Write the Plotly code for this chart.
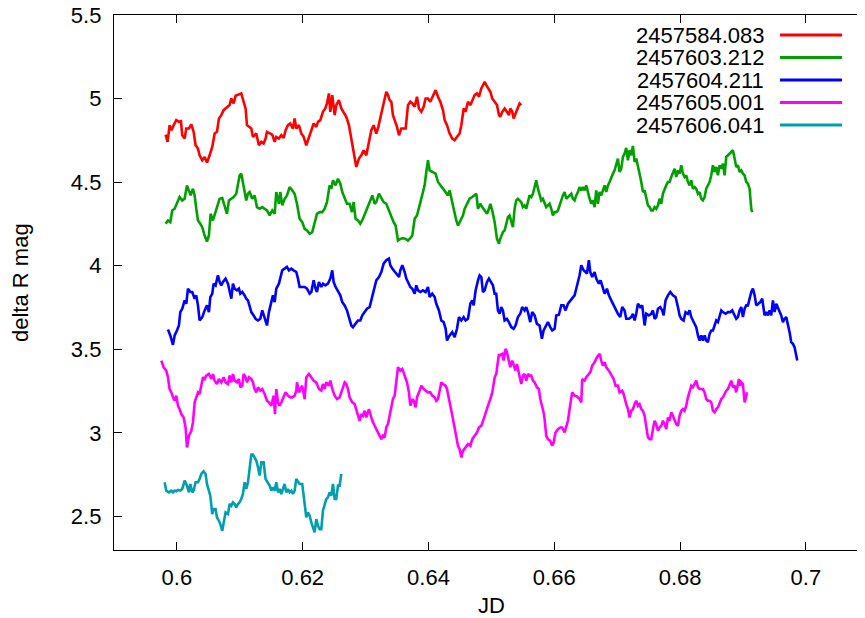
import plotly.graph_objects as go

# ---------------- data ----------------
series_names = ["2457584.083", "2457603.212", "2457604.211", "2457605.001", "2457606.041"]
series_colors = ["#ff0000", "#00a000", "#0000ff", "#ff00ff", "#009faf"]

x_tickvals = [0.6, 0.62, 0.64, 0.66, 0.68, 0.7]
x_ticktext = ["0.6", "0.62", "0.64", "0.66", "0.68", "0.7"]
y_tickvals = [2.5, 3, 3.5, 4, 4.5, 5, 5.5]
y_ticktext = ["2.5", "3", "3.5", "4", "4.5", "5", "5.5"]

jd_584 = [0.59820, 0.59852, 0.59884, 0.59916, 0.59948, 0.59990, 0.60032, 0.60064, 0.60085, 0.60123,
          0.60149, 0.60191, 0.60229, 0.60266, 0.60297, 0.60335, 0.60361, 0.60403, 0.60441, 0.60478,
          0.60520, 0.60562, 0.60600, 0.60637, 0.60668, 0.60706, 0.60743, 0.60785, 0.60838, 0.60865,
          0.60902, 0.60933, 0.60971, 0.61024, 0.61061, 0.61092, 0.61114, 0.61156, 0.61183, 0.61209,
          0.61262, 0.61304, 0.61342, 0.61379, 0.61410, 0.61432, 0.61474, 0.61516, 0.61554, 0.61580,
          0.61622, 0.61660, 0.61697, 0.61728, 0.61766, 0.61803, 0.61845, 0.61872, 0.61898, 0.61940,
          0.61978, 0.62015, 0.62057, 0.62099, 0.62137, 0.62174, 0.62216, 0.62243, 0.62280, 0.62322,
          0.62359, 0.62386, 0.62417, 0.62439, 0.62470, 0.62508, 0.62534, 0.62576, 0.62614, 0.62651,
          0.62693, 0.62735, 0.62773, 0.62810, 0.62852, 0.62894, 0.62932, 0.62969, 0.63011, 0.63053,
          0.63091, 0.63128, 0.63170, 0.63202, 0.63234, 0.63276, 0.63303, 0.63329, 0.63356, 0.63382,
          0.63409, 0.63435, 0.63462, 0.63499, 0.63531, 0.63568, 0.63605, 0.63637, 0.63674, 0.63711,
          0.63743, 0.63780, 0.63817, 0.63848, 0.63886, 0.63923, 0.63954, 0.63992, 0.64029, 0.64071,
          0.64113, 0.64151, 0.64188, 0.64230, 0.64257, 0.64294, 0.64336, 0.64378, 0.64416, 0.64453,
          0.64495, 0.64522, 0.64559, 0.64590, 0.64628, 0.64665, 0.64696, 0.64734, 0.64771, 0.64803,
          0.64840, 0.64866, 0.64893, 0.64919, 0.64946, 0.64983, 0.65014, 0.65052, 0.65089, 0.65121,
          0.65141, 0.65173, 0.65210, 0.65247, 0.65279, 0.65300, 0.65332, 0.65353, 0.65384, 0.65422,
          0.65448, 0.65475]
mag_584 = [4.785, 4.741, 4.841, 4.811, 4.841, 4.871, 4.861, 4.865, 4.781, 4.761,
           4.821, 4.821, 4.845, 4.801, 4.721, 4.701, 4.661, 4.631, 4.651, 4.617,
           4.661, 4.711, 4.791, 4.801, 4.881, 4.901, 4.931, 4.945, 4.961, 5.001,
           4.971, 5.017, 5.021, 5.031, 4.981, 4.941, 4.841, 4.831, 4.821, 4.771,
           4.791, 4.721, 4.741, 4.731, 4.761, 4.801, 4.791, 4.785, 4.741, 4.771,
           4.761, 4.781, 4.765, 4.811, 4.841, 4.851, 4.821, 4.881, 4.821, 4.841,
           4.791, 4.771, 4.721, 4.771, 4.811, 4.851, 4.831, 4.861, 4.871, 4.921,
           4.941, 4.971, 5.031, 4.921, 5.021, 4.901, 4.961, 4.991, 4.941, 4.921,
           4.891, 4.841, 4.761, 4.701, 4.591, 4.641, 4.661, 4.691, 4.661, 4.741,
           4.811, 4.841, 4.791, 4.831, 4.881, 4.961, 5.001, 5.041, 5.021, 4.991,
           4.981, 4.901, 4.871, 4.831, 4.781, 4.821, 4.821, 4.821, 4.961, 4.981,
           4.971, 4.951, 5.011, 4.941, 4.921, 4.951, 5.001, 5.001, 4.981, 5.021,
           5.051, 5.011, 4.981, 4.931, 4.871, 4.841, 4.791, 4.761, 4.751, 4.771,
           4.791, 4.841, 4.941, 4.921, 4.981, 4.961, 4.991, 5.021, 5.031, 5.011,
           5.061, 5.081, 5.101, 5.081, 5.061, 5.041, 5.001, 4.981, 4.961, 4.901,
           4.891, 4.921, 4.941, 4.921, 4.901, 4.941, 4.921, 4.881, 4.911, 4.951,
           4.971, 4.961]

jd_603 = [0.59820, 0.59858, 0.59895, 0.59926, 0.59964, 0.60001, 0.60043, 0.60085, 0.60123, 0.60160,
          0.60191, 0.60218, 0.60255, 0.60282, 0.60308, 0.60335, 0.60372, 0.60403, 0.60441, 0.60478,
          0.60509, 0.60536, 0.60573, 0.60600, 0.60637, 0.60679, 0.60721, 0.60759, 0.60796, 0.60827,
          0.60865, 0.60902, 0.60944, 0.60971, 0.60997, 0.61024, 0.61050, 0.61077, 0.61103, 0.61130,
          0.61156, 0.61198, 0.61236, 0.61273, 0.61315, 0.61357, 0.61395, 0.61432, 0.61474, 0.61516,
          0.61554, 0.61580, 0.61622, 0.61644, 0.61675, 0.61713, 0.61750, 0.61792, 0.61834, 0.61872,
          0.61909, 0.61951, 0.61993, 0.62031, 0.62068, 0.62110, 0.62152, 0.62190, 0.62227, 0.62269,
          0.62311, 0.62349, 0.62386, 0.62428, 0.62455, 0.62481, 0.62523, 0.62561, 0.62598, 0.62629,
          0.62667, 0.62704, 0.62746, 0.62783, 0.62810, 0.62841, 0.62879, 0.62916, 0.62958, 0.63000,
          0.63038, 0.63075, 0.63107, 0.63144, 0.63170, 0.63212, 0.63250, 0.63287, 0.63329, 0.63371,
          0.63409, 0.63446, 0.63477, 0.63515, 0.63552, 0.63594, 0.63636, 0.63674, 0.63711, 0.63743,
          0.63780, 0.63817, 0.63859, 0.63901, 0.63939, 0.63965, 0.63992, 0.64018, 0.64060, 0.64113,
          0.64151, 0.64188, 0.64230, 0.64272, 0.64310, 0.64336, 0.64363, 0.64389, 0.64416, 0.64442,
          0.64469, 0.64495, 0.64522, 0.64548, 0.64575, 0.64612, 0.64654, 0.64696, 0.64734, 0.64760,
          0.64787, 0.64824, 0.64855, 0.64893, 0.64930, 0.64961, 0.64983, 0.65014, 0.65052, 0.65089,
          0.65121, 0.65130, 0.65157, 0.65183, 0.65210, 0.65236, 0.65263, 0.65289, 0.65316, 0.65342,
          0.65369, 0.65395, 0.65422, 0.65448, 0.65475, 0.65501, 0.65528, 0.65554, 0.65581, 0.65607,
          0.65634, 0.65660, 0.65687, 0.65713, 0.65740, 0.65766, 0.65793, 0.65819, 0.65846, 0.65872,
          0.65899, 0.65925, 0.65952, 0.65978, 0.66005, 0.66031, 0.66058, 0.66084, 0.66111, 0.66137,
          0.66164, 0.66190, 0.66217, 0.66243, 0.66270, 0.66296, 0.66323, 0.66349, 0.66376, 0.66402,
          0.66429, 0.66455, 0.66482, 0.66508, 0.66535, 0.66561, 0.66588, 0.66614, 0.66641, 0.66667,
          0.66694, 0.66720, 0.66747, 0.66773, 0.66800, 0.66826, 0.66853, 0.66879, 0.66906, 0.66932,
          0.66959, 0.66985, 0.67012, 0.67038, 0.67065, 0.67091, 0.67118, 0.67144, 0.67171, 0.67197,
          0.67224, 0.67250, 0.67277, 0.67303, 0.67330, 0.67356, 0.67383, 0.67409, 0.67436, 0.67462,
          0.67489, 0.67515, 0.67542, 0.67568, 0.67595, 0.67621, 0.67648, 0.67674, 0.67701, 0.67727,
          0.67754, 0.67780, 0.67807, 0.67833, 0.67860, 0.67886, 0.67913, 0.67939, 0.67966, 0.67992,
          0.68019, 0.68045, 0.68072, 0.68098, 0.68125, 0.68151, 0.68178, 0.68204, 0.68231, 0.68257,
          0.68284, 0.68310, 0.68337, 0.68363, 0.68390, 0.68416, 0.68443, 0.68469, 0.68496, 0.68522,
          0.68549, 0.68575, 0.68602, 0.68628, 0.68655, 0.68681, 0.68708, 0.68734, 0.68761, 0.68787,
          0.68814, 0.68840, 0.68867, 0.68893, 0.68920, 0.68946, 0.68973, 0.68999, 0.69026, 0.69052,
          0.69079, 0.69105, 0.69132, 0.69147]
mag_603 = [4.251, 4.271, 4.261, 4.331, 4.341, 4.371, 4.411, 4.391, 4.401, 4.481,
           4.451, 4.421, 4.461, 4.421, 4.341, 4.271, 4.251, 4.231, 4.181, 4.145,
           4.181, 4.311, 4.271, 4.301, 4.351, 4.401, 4.405, 4.361, 4.311, 4.391,
           4.401, 4.411, 4.431, 4.481, 4.541, 4.551, 4.501, 4.451, 4.391, 4.431,
           4.441, 4.401, 4.421, 4.351, 4.341, 4.351, 4.341, 4.331, 4.301, 4.331,
           4.311, 4.441, 4.371, 4.441, 4.361, 4.401, 4.421, 4.471, 4.451, 4.431,
           4.371, 4.281, 4.261, 4.221, 4.211, 4.191, 4.201, 4.261, 4.311, 4.321,
           4.321, 4.341, 4.381, 4.481, 4.461, 4.511, 4.481, 4.521, 4.491, 4.441,
           4.401, 4.371, 4.371, 4.321, 4.381, 4.281, 4.271, 4.251, 4.281, 4.321,
           4.351, 4.381, 4.421, 4.371, 4.381, 4.431, 4.401, 4.381, 4.371, 4.331,
           4.291, 4.261, 4.241, 4.151, 4.161, 4.165, 4.161, 4.151, 4.165, 4.181,
           4.281, 4.301, 4.361, 4.421, 4.481, 4.561, 4.631, 4.571, 4.561, 4.551,
           4.501, 4.481, 4.461, 4.441, 4.421, 4.451, 4.401, 4.351, 4.321, 4.271,
           4.241, 4.261, 4.281, 4.301, 4.341, 4.371, 4.401, 4.411, 4.421, 4.431,
           4.341, 4.371, 4.351, 4.331, 4.311, 4.341, 4.371, 4.331, 4.261, 4.161,
           4.131, 4.151, 4.181, 4.201, 4.211, 4.261, 4.291, 4.301, 4.261, 4.231,
           4.341, 4.391, 4.401, 4.391, 4.381, 4.351, 4.361, 4.341, 4.391, 4.421,
           4.411, 4.431, 4.471, 4.511, 4.461, 4.421, 4.391, 4.401, 4.371, 4.351,
           4.361, 4.371, 4.341, 4.301, 4.321, 4.321, 4.331, 4.361, 4.401, 4.421,
           4.441, 4.401, 4.411, 4.421, 4.431, 4.401, 4.391, 4.421, 4.441, 4.471,
           4.451, 4.471, 4.451, 4.481, 4.431, 4.401, 4.371, 4.391, 4.351, 4.451,
           4.371, 4.441, 4.421, 4.451, 4.481, 4.441, 4.481, 4.501, 4.531, 4.551,
           4.571, 4.611, 4.641, 4.561, 4.581, 4.651, 4.671, 4.705, 4.631, 4.691,
           4.661, 4.717, 4.621, 4.641, 4.601, 4.551, 4.501, 4.441, 4.451, 4.411,
           4.361, 4.351, 4.331, 4.331, 4.351, 4.341, 4.361, 4.401, 4.371, 4.431,
           4.461, 4.481, 4.501, 4.501, 4.531, 4.561, 4.581, 4.531, 4.571, 4.551,
           4.601, 4.551, 4.531, 4.541, 4.501, 4.481, 4.511, 4.461, 4.471, 4.461,
           4.431, 4.441, 4.401, 4.391, 4.411, 4.461, 4.481, 4.501, 4.541, 4.601,
           4.561, 4.591, 4.541, 4.601, 4.581, 4.611, 4.541, 4.651, 4.661, 4.671,
           4.685, 4.691, 4.641, 4.591, 4.601, 4.561, 4.571, 4.551, 4.541, 4.501,
           4.491, 4.461, 4.341, 4.321]

jd_604 = [0.59858, 0.59895, 0.59937, 0.59964, 0.60001, 0.60032, 0.60054, 0.60085, 0.60123, 0.60149,
          0.60176, 0.60213, 0.60244, 0.60282, 0.60308, 0.60335, 0.60361, 0.60403, 0.60441, 0.60478,
          0.60509, 0.60531, 0.60562, 0.60584, 0.60615, 0.60653, 0.60679, 0.60706, 0.60732, 0.60774,
          0.60812, 0.60838, 0.60865, 0.60891, 0.60918, 0.60955, 0.60986, 0.61008, 0.61039, 0.61077,
          0.61103, 0.61130, 0.61156, 0.61183, 0.61220, 0.61251, 0.61289, 0.61326, 0.61357, 0.61395,
          0.61432, 0.61463, 0.61501, 0.61527, 0.61554, 0.61580, 0.61622, 0.61644, 0.61675, 0.61713,
          0.61750, 0.61781, 0.61819, 0.61856, 0.61898, 0.61925, 0.61951, 0.61993, 0.62031, 0.62068,
          0.62110, 0.62137, 0.62174, 0.62205, 0.62227, 0.62258, 0.62296, 0.62322, 0.62359, 0.62402,
          0.62439, 0.62470, 0.62492, 0.62523, 0.62561, 0.62598, 0.62629, 0.62667, 0.62704, 0.62735,
          0.62773, 0.62799, 0.62841, 0.62879, 0.62916, 0.62947, 0.62985, 0.63022, 0.63064, 0.63091,
          0.63117, 0.63144, 0.63170, 0.63212, 0.63250, 0.63287, 0.63329, 0.63371, 0.63393, 0.63424,
          0.63462, 0.63499, 0.63531, 0.63552, 0.63584, 0.63621, 0.63647, 0.63674, 0.63711, 0.63743,
          0.63780, 0.63806, 0.63833, 0.63870, 0.63912, 0.63954, 0.63992, 0.64018, 0.64060, 0.64098,
          0.64124, 0.64166, 0.64204, 0.64241, 0.64273, 0.64294, 0.64336, 0.64378, 0.64416, 0.64453,
          0.64484, 0.64522, 0.64559, 0.64590, 0.64628, 0.64665, 0.64696, 0.64718, 0.64749, 0.64787,
          0.64813, 0.64840, 0.64866, 0.64893, 0.64930, 0.64961, 0.65024, 0.65051, 0.65077, 0.65104,
          0.65130, 0.65157, 0.65183, 0.65210, 0.65247, 0.65278, 0.65316, 0.65353, 0.65384, 0.65422,
          0.65459, 0.65490, 0.65528, 0.65554, 0.65581, 0.65618, 0.65649, 0.65687, 0.65724, 0.65766,
          0.65803, 0.65830, 0.65861, 0.65899, 0.65936, 0.65967, 0.66005, 0.66031, 0.66073, 0.66111,
          0.66148, 0.66179, 0.66217, 0.66254, 0.66285, 0.66323, 0.66349, 0.66376, 0.66402, 0.66429,
          0.66466, 0.66497, 0.66519, 0.66550, 0.66572, 0.66603, 0.66641, 0.66667, 0.66709, 0.66736,
          0.66773, 0.66800, 0.66837, 0.66868, 0.66906, 0.66943, 0.66974, 0.67012, 0.67049, 0.67080,
          0.67118, 0.67144, 0.67186, 0.67224, 0.67250, 0.67277, 0.67303, 0.67330, 0.67367, 0.67398,
          0.67436, 0.67462, 0.67504, 0.67542, 0.67568, 0.67595, 0.67621, 0.67648, 0.67685, 0.67716,
          0.67738, 0.67769, 0.67807, 0.67844, 0.67886, 0.67928, 0.67966, 0.67992, 0.68019, 0.68056,
          0.68087, 0.68125, 0.68151, 0.68178, 0.68204, 0.68231, 0.68257, 0.68284, 0.68310, 0.68337,
          0.68363, 0.68390, 0.68416, 0.68443, 0.68469, 0.68496, 0.68522, 0.68549, 0.68575, 0.68602,
          0.68628, 0.68655, 0.68681, 0.68723, 0.68761, 0.68798, 0.68829, 0.68867, 0.68893, 0.68920,
          0.68946, 0.68973, 0.68999, 0.69026, 0.69052, 0.69079, 0.69105, 0.69132, 0.69158, 0.69185,
          0.69211, 0.69238, 0.69275, 0.69306, 0.69343, 0.69370, 0.69396, 0.69423, 0.69449, 0.69476,
          0.69502, 0.69529, 0.69555, 0.69582, 0.69608, 0.69635, 0.69661, 0.69688, 0.69714, 0.69741,
          0.69767, 0.69794, 0.69820, 0.69847, 0.69863]
mag_604 = [3.619, 3.583, 3.527, 3.583, 3.613, 3.643, 3.723, 3.743, 3.793, 3.773,
           3.863, 3.843, 3.843, 3.803, 3.823, 3.763, 3.673, 3.693, 3.733, 3.763,
           3.723, 3.813, 3.833, 3.893, 3.883, 3.943, 3.903, 3.883, 3.903, 3.923,
           3.893, 3.843, 3.803, 3.893, 3.863, 3.853, 3.863, 3.833, 3.843, 3.823,
           3.803, 3.793, 3.763, 3.723, 3.703, 3.683, 3.673, 3.683, 3.733, 3.693,
           3.643, 3.723, 3.773, 3.823, 3.783, 3.863, 3.893, 3.933, 3.973, 3.983,
           3.993, 3.973, 3.983, 3.973, 3.963, 3.923, 3.873, 3.873, 3.873, 3.863,
           3.833, 3.843, 3.913, 3.863, 3.843, 3.903, 3.873, 3.893, 3.883, 3.893,
           3.923, 3.973, 3.903, 3.873, 3.843, 3.823, 3.783, 3.763, 3.733, 3.693,
           3.643, 3.633, 3.653, 3.673, 3.673, 3.703, 3.723, 3.743, 3.753, 3.793,
           3.843, 3.883, 3.913, 3.933, 3.963, 4.013, 4.033, 4.043, 4.003, 3.983,
           3.963, 3.943, 3.933, 3.973, 4.003, 3.963, 3.923, 3.903, 3.873, 3.863,
           3.833, 3.883, 3.853, 3.843, 3.853, 3.843, 3.873, 3.813, 3.833, 3.813,
           3.773, 3.733, 3.673, 3.663, 3.623, 3.553, 3.583, 3.603, 3.573, 3.623,
           3.693, 3.673, 3.693, 3.673, 3.683, 3.773, 3.793, 3.763, 3.853, 3.913,
           3.943, 3.933, 3.843, 3.853, 3.903, 3.923, 3.883, 3.833, 3.833, 3.733,
           3.713, 3.753, 3.733, 3.673, 3.683, 3.663, 3.633, 3.623, 3.643, 3.693,
           3.713, 3.753, 3.733, 3.753, 3.723, 3.663, 3.723, 3.703, 3.653, 3.643,
           3.563, 3.613, 3.633, 3.663, 3.633, 3.613, 3.623, 3.703, 3.707, 3.763,
           3.763, 3.733, 3.773, 3.793, 3.803, 3.823, 3.863, 3.903, 3.943, 4.003,
           3.973, 3.963, 3.953, 4.033, 3.963, 3.933, 3.963, 3.923, 3.893, 3.913,
           3.863, 3.833, 3.863, 3.823, 3.793, 3.763, 3.743, 3.713, 3.693, 3.753,
           3.733, 3.683, 3.683, 3.693, 3.713, 3.673, 3.713, 3.773, 3.753, 3.763,
           3.643, 3.713, 3.703, 3.713, 3.733, 3.683, 3.693, 3.743, 3.753, 3.733,
           3.703, 3.793, 3.823, 3.843, 3.823, 3.813, 3.753, 3.703, 3.683, 3.673,
           3.723, 3.713, 3.733, 3.693, 3.673, 3.653, 3.633, 3.583, 3.553, 3.583,
           3.553, 3.583, 3.553, 3.543, 3.593, 3.613, 3.613, 3.643, 3.673, 3.663,
           3.693, 3.733, 3.723, 3.713, 3.723, 3.723, 3.733, 3.703, 3.683, 3.693,
           3.733, 3.753, 3.693, 3.743, 3.763, 3.763, 3.803, 3.843, 3.863, 3.823,
           3.763, 3.773, 3.783, 3.803, 3.703, 3.723, 3.703, 3.733, 3.703, 3.793,
           3.723, 3.773, 3.753, 3.723, 3.703, 3.663, 3.683, 3.693, 3.653, 3.603,
           3.543, 3.533, 3.513, 3.463, 3.433]

jd_605 = [0.59752, 0.59789, 0.59831, 0.59858, 0.59884, 0.59911, 0.59937, 0.59964, 0.59990, 0.60017,
          0.60043, 0.60070, 0.60107, 0.60138, 0.60160, 0.60191, 0.60229, 0.60255, 0.60282, 0.60308,
          0.60335, 0.60361, 0.60388, 0.60414, 0.60441, 0.60467, 0.60509, 0.60547, 0.60573, 0.60600,
          0.60637, 0.60668, 0.60706, 0.60743, 0.60774, 0.60812, 0.60838, 0.60865, 0.60891, 0.60918,
          0.60955, 0.60986, 0.61008, 0.61039, 0.61061, 0.61092, 0.61114, 0.61145, 0.61183, 0.61209,
          0.61236, 0.61262, 0.61289, 0.61326, 0.61357, 0.61395, 0.61432, 0.61463, 0.61501, 0.61538,
          0.61559, 0.61580, 0.61607, 0.61633, 0.61660, 0.61697, 0.61728, 0.61766, 0.61803, 0.61834,
          0.61872, 0.61898, 0.61909, 0.61940, 0.61962, 0.61993, 0.62031, 0.62057, 0.62099, 0.62137,
          0.62174, 0.62216, 0.62258, 0.62296, 0.62322, 0.62349, 0.62375, 0.62417, 0.62439, 0.62470,
          0.62508, 0.62545, 0.62587, 0.62614, 0.62640, 0.62667, 0.62693, 0.62720, 0.62746, 0.62788,
          0.62826, 0.62852, 0.62879, 0.62905, 0.62932, 0.62958, 0.62985, 0.63011, 0.63053, 0.63075,
          0.63107, 0.63144, 0.63170, 0.63197, 0.63223, 0.63250, 0.63276, 0.63303, 0.63329, 0.63356,
          0.63382, 0.63409, 0.63435, 0.63462, 0.63488, 0.63515, 0.63552, 0.63584, 0.63621, 0.63658,
          0.63689, 0.63711, 0.63743, 0.63764, 0.63795, 0.63817, 0.63848, 0.63886, 0.63923, 0.63954,
          0.63992, 0.64029, 0.64060, 0.64098, 0.64124, 0.64151, 0.64177, 0.64204, 0.64230, 0.64272,
          0.64294, 0.64325, 0.64363, 0.64389, 0.64416, 0.64442, 0.64469, 0.64495, 0.64522, 0.64548,
          0.64590, 0.64628, 0.64665, 0.64696, 0.64734, 0.64771, 0.64803, 0.64840, 0.64877, 0.64908,
          0.64946, 0.64983, 0.65014, 0.65052, 0.65078, 0.65105, 0.65121, 0.65130, 0.65172, 0.65194,
          0.65225, 0.65247, 0.65278, 0.65300, 0.65331, 0.65353, 0.65384, 0.65406, 0.65437, 0.65475,
          0.65501, 0.65528, 0.65554, 0.65581, 0.65607, 0.65634, 0.65660, 0.65687, 0.65724, 0.65755,
          0.65777, 0.65808, 0.65830, 0.65846, 0.65872, 0.65899, 0.65936, 0.65967, 0.65989, 0.66020,
          0.66058, 0.66095, 0.66126, 0.66164, 0.66190, 0.66217, 0.66243, 0.66270, 0.66285, 0.66323,
          0.66360, 0.66402, 0.66429, 0.66444, 0.66482, 0.66508, 0.66535, 0.66572, 0.66603, 0.66641,
          0.66678, 0.66720, 0.66747, 0.66773, 0.66800, 0.66826, 0.66868, 0.66906, 0.66943, 0.66974,
          0.67012, 0.67038, 0.67080, 0.67102, 0.67118, 0.67144, 0.67171, 0.67197, 0.67224, 0.67250,
          0.67277, 0.67303, 0.67330, 0.67356, 0.67383, 0.67409, 0.67436, 0.67462, 0.67489, 0.67515,
          0.67542, 0.67568, 0.67595, 0.67621, 0.67648, 0.67674, 0.67701, 0.67727, 0.67754, 0.67780,
          0.67807, 0.67833, 0.67860, 0.67886, 0.67913, 0.67939, 0.67966, 0.67992, 0.68019, 0.68045,
          0.68072, 0.68098, 0.68125, 0.68151, 0.68178, 0.68204, 0.68231, 0.68257, 0.68284, 0.68310,
          0.68337, 0.68363, 0.68390, 0.68416, 0.68443, 0.68469, 0.68496, 0.68522, 0.68549, 0.68575,
          0.68602, 0.68628, 0.68655, 0.68681, 0.68708, 0.68734, 0.68761, 0.68787, 0.68814, 0.68840,
          0.68867, 0.68893, 0.68920, 0.68935, 0.68957, 0.68973, 0.68999, 0.69026, 0.69042, 0.69063]
mag_605 = [3.433, 3.393, 3.373, 3.333, 3.263, 3.243, 3.213, 3.193, 3.223, 3.163,
           3.143, 3.113, 3.093, 3.033, 2.913, 2.983, 3.013, 3.063, 3.183, 3.213,
           3.243, 3.233, 3.283, 3.333, 3.323, 3.343, 3.353, 3.323, 3.353, 3.313,
           3.293, 3.323, 3.303, 3.333, 3.303, 3.293, 3.343, 3.303, 3.353, 3.313,
           3.303, 3.323, 3.273, 3.283, 3.353, 3.333, 3.303, 3.333, 3.323, 3.303,
           3.263, 3.243, 3.273, 3.253, 3.263, 3.233, 3.193, 3.183, 3.163, 3.223,
           3.113, 3.263, 3.183, 3.163, 3.183, 3.213, 3.243, 3.223, 3.213, 3.213,
           3.223, 3.253, 3.303, 3.243, 3.263, 3.283, 3.203, 3.333, 3.353, 3.333,
           3.313, 3.303, 3.263, 3.253, 3.293, 3.263, 3.303, 3.283, 3.313, 3.263,
           3.223, 3.203, 3.213, 3.243, 3.273, 3.303, 3.293, 3.263, 3.213, 3.183,
           3.173, 3.143, 3.113, 3.073, 3.113, 3.103, 3.133, 3.093, 3.143, 3.113,
           3.073, 3.043, 3.023, 2.993, 2.983, 2.963, 2.983, 2.973, 3.033, 3.053,
           3.103, 3.163, 3.203, 3.223, 3.293, 3.393, 3.373, 3.383, 3.343, 3.303,
           3.243, 3.163, 3.203, 3.193, 3.153, 3.213, 3.243, 3.283, 3.263, 3.253,
           3.243, 3.243, 3.223, 3.213, 3.193, 3.203, 3.243, 3.303, 3.293, 3.283,
           3.263, 3.193, 3.133, 3.083, 3.033, 2.963, 2.923, 2.903, 2.853, 2.893,
           2.913, 2.933, 2.923, 2.963, 2.983, 3.003, 3.033, 3.043, 3.083, 3.123,
           3.163, 3.203, 3.243, 3.333, 3.353, 3.433, 3.473, 3.463, 3.473, 3.433,
           3.503, 3.483, 3.423, 3.393, 3.433, 3.403, 3.373, 3.413, 3.363, 3.293,
           3.343, 3.353, 3.313, 3.353, 3.343, 3.343, 3.313, 3.303, 3.273, 3.263,
           3.203, 3.163, 3.123, 3.083, 2.983, 2.963, 2.953, 2.923, 2.943, 3.003,
           3.023, 3.033, 3.033, 3.003, 3.043, 3.073, 3.143, 3.203, 3.243, 3.223,
           3.219, 3.203, 3.183, 3.323, 3.313, 3.333, 3.343, 3.363, 3.403, 3.423,
           3.453, 3.473, 3.433, 3.403, 3.423, 3.393, 3.373, 3.343, 3.323, 3.283,
           3.283, 3.243, 3.253, 3.233, 3.203, 3.173, 3.143, 3.093, 3.133, 3.143,
           3.173, 3.193, 3.163, 3.173, 3.143, 3.133, 3.103, 3.033, 2.973, 2.963,
           2.963, 3.023, 3.073, 3.053, 3.013, 3.033, 3.043, 3.073, 3.053, 3.023,
           3.093, 3.073, 3.123, 3.103, 3.073, 3.053, 3.043, 3.103, 3.133, 3.143,
           3.133, 3.163, 3.213, 3.243, 3.283, 3.273, 3.293, 3.313, 3.273, 3.263,
           3.263, 3.263, 3.243, 3.203, 3.193, 3.193, 3.183, 3.133, 3.123, 3.143,
           3.153, 3.183, 3.203, 3.213, 3.233, 3.253, 3.263, 3.293, 3.313, 3.273,
           3.283, 3.243, 3.313, 3.323, 3.283, 3.303, 3.293, 3.183, 3.203, 3.243]

jd_606 = [0.59805, 0.59831, 0.59873, 0.59911, 0.59937, 0.59964, 0.59990, 0.60017, 0.60054, 0.60085,
          0.60123, 0.60160, 0.60191, 0.60213, 0.60244, 0.60266, 0.60297, 0.60335, 0.60361, 0.60388,
          0.60425, 0.60456, 0.60478, 0.60509, 0.60531, 0.60562, 0.60584, 0.60615, 0.60637, 0.60668,
          0.60690, 0.60721, 0.60743, 0.60774, 0.60812, 0.60838, 0.60865, 0.60891, 0.60918, 0.60944,
          0.60971, 0.60997, 0.61024, 0.61050, 0.61077, 0.61103, 0.61130, 0.61156, 0.61183, 0.61209,
          0.61236, 0.61262, 0.61289, 0.61315, 0.61342, 0.61379, 0.61410, 0.61448, 0.61474, 0.61501,
          0.61527, 0.61554, 0.61580, 0.61607, 0.61633, 0.61660, 0.61686, 0.61713, 0.61739, 0.61766,
          0.61792, 0.61819, 0.61845, 0.61872, 0.61898, 0.61925, 0.61951, 0.61993, 0.62015, 0.62036,
          0.62057, 0.62084, 0.62110, 0.62137, 0.62163, 0.62190, 0.62216, 0.62243, 0.62269, 0.62296,
          0.62322, 0.62349, 0.62375, 0.62402, 0.62428, 0.62455, 0.62481, 0.62508, 0.62534, 0.62561,
          0.62587, 0.62614]
mag_606 = [2.705, 2.655, 2.645, 2.655, 2.645, 2.655, 2.651, 2.659, 2.655, 2.665,
           2.715, 2.685, 2.645, 2.695, 2.645, 2.655, 2.705, 2.705, 2.725, 2.755,
           2.771, 2.755, 2.695, 2.645, 2.625, 2.515, 2.545, 2.545, 2.495, 2.475,
           2.455, 2.415, 2.465, 2.525, 2.515, 2.575, 2.565, 2.585, 2.575, 2.555,
           2.575, 2.585, 2.605, 2.635, 2.705, 2.665, 2.705, 2.795, 2.871, 2.871,
           2.855, 2.835, 2.795, 2.745, 2.825, 2.825, 2.725, 2.705, 2.685, 2.655,
           2.675, 2.655, 2.705, 2.645, 2.665, 2.635, 2.665, 2.695, 2.645, 2.665,
           2.645, 2.655, 2.635, 2.655, 2.725, 2.705, 2.695, 2.695, 2.635, 2.555,
           2.495, 2.525, 2.505, 2.465, 2.435, 2.405, 2.485, 2.445, 2.425, 2.425,
           2.535, 2.565, 2.605, 2.615, 2.645, 2.625, 2.695, 2.605, 2.605, 2.685,
           2.685, 2.755]

x_series = [jd_584, jd_603, jd_604, jd_605, jd_606]
y_series = [mag_584, mag_603, mag_604, mag_605, mag_606]

# ---------------- figure ----------------
FONT = "Liberation Sans, Arial, Helvetica, sans-serif"
FS = 22
OFF = 8                      # page body margin in the browser
PAGE_W, PAGE_H = 865, 618
W, H = PAGE_W - OFF, PAGE_H - OFF
ML, MR, MT, MB = 114 - OFF, 0, 15 - OFF, PAGE_H - 550
X_RANGE = [0.59, 0.7094]
Y_RANGE = [2.3, 5.5]

fig = go.Figure()
for xs, ys, name, col in zip(x_series, y_series, series_names, series_colors):
    fig.add_trace(go.Scatter(x=xs, y=ys, mode="lines", name=name,
                             line=dict(color=col, width=2.6), showlegend=False))

plot_w = W - ML - MR
plot_h = H - MT - MB

def px_x(page_px):
    return (page_px - OFF - ML) / plot_w

def px_y(page_py):
    return (H - MB - (page_py - OFF)) / plot_h

# legend drawn gnuplot-style: text right-aligned, sample line on the right
leg_rows = [35, 57.5, 80, 102.5, 125]
annotations = []
shapes = []
for name, col, row in zip(series_names, series_colors, leg_rows):
    annotations.append(dict(x=px_x(766), y=px_y(row), xref="paper", yref="paper",
                            text=name, showarrow=False, xanchor="right", yanchor="middle",
                            height=20, valign="middle",
                            font=dict(family=FONT, size=FS, color="black")))
    shapes.append(dict(type="line", xref="paper", yref="paper",
                       x0=px_x(780), x1=px_x(842), y0=px_y(row), y1=px_y(row),
                       line=dict(color=col, width=3)))

# right-hand mirrored y tick stubs (border itself is just outside the picture)
for tv in y_tickvals:
    shapes.append(dict(type="line", xref="paper", yref="y", x0=px_x(861.5), x1=1,
                       y0=tv, y1=tv, line=dict(color="black", width=1)))

annotations.append(dict(x=px_x(491), y=px_y(605), xref="paper", yref="paper", text="JD",
                        showarrow=False, xanchor="center", yanchor="middle",
                        font=dict(family=FONT, size=FS, color="black")))
annotations.append(dict(x=px_x(20.5), y=px_y(282.5), xref="paper", yref="paper",
                        text="delta R mag", textangle=-90, showarrow=False,
                        xanchor="center", yanchor="middle",
                        font=dict(family=FONT, size=FS, color="black")))

fig.update_layout(
    width=W, height=H,
    margin=dict(l=ML, r=MR, t=MT, b=MB, pad=0, autoexpand=False),
    paper_bgcolor="white", plot_bgcolor="white",
    font=dict(family=FONT, size=FS, color="black"),
    annotations=annotations, shapes=shapes,
    xaxis=dict(range=X_RANGE, tickvals=x_tickvals, ticktext=x_ticktext,
               ticks="inside", ticklen=8, tickwidth=1, tickcolor="black",
               showline=True, linecolor="black", linewidth=1.3, mirror="ticks",
               showgrid=False, zeroline=False, ticklabelstandoff=7,
               ticklabeloverflow="allow", automargin=False,
               tickfont=dict(family=FONT, size=FS, color="black")),
    yaxis=dict(range=Y_RANGE, tickvals=y_tickvals, ticktext=y_ticktext,
               ticks="inside", ticklen=8, tickwidth=1, tickcolor="black",
               showline=True, linecolor="black", linewidth=1.3, mirror=False,
               showgrid=False, zeroline=False, ticklabelstandoff=7,
               ticklabeloverflow="allow", automargin=False,
               tickfont=dict(family=FONT, size=FS, color="black")),
)

fig.write_html("out.html")
